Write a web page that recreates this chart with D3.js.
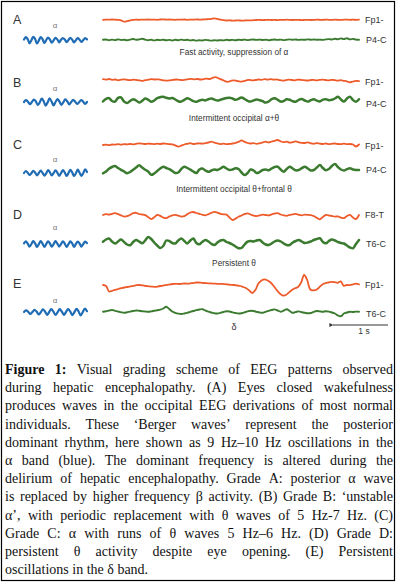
<!DOCTYPE html>
<html>
<head>
<meta charset="utf-8">
<script src="https://cdn.jsdelivr.net/npm/d3@7"></script>
<style>
  html, body { margin: 0; padding: 0; background: #fff; }
  svg { display: block; }
</style>
</head>
<body>
<div id="chart"></div>
<script>
// ---------------- DATA ----------------
const panels = ["A", "B", "C", "D", "E"];
const topLabels = ["Fp1-", "Fp1-", "Fp1-", "F8-T", "Fp1-"];
const bottomLabels = ["P4-C", "P4-C", "P4-C", "T6-C", "T6-C"];
const descriptions = ["Fast activity, suppression of \u03b1", "Intermittent occipital \u03b1+\u03b8",
  "Intermittent occipital \u03b8+frontal \u03b8", "Persistent \u03b8", "\u03b4"];
const alphaLabel = "\u03b1";
const scaleBarLabel = "1 s";

// posterior alpha (blue) traces, amplitude units
const alphaA = [0.5, 2.8, 0.8, -3.3, -0.2, 3.2, 1.0, -3.5, -0.5, 3.0, 0.8, -3.0, 0.0, 2.5, 0.4, -2.6, -0.3, 2.2, 0.6, -2.5, 0.2, 2.0, 0.5, -2.2, 0.0, 2.2, 0.4, -2.4, -0.2, 1.8, 0.3, -2.0, 0.0, 1.8, 0.6];
const alphaB = [0.0, 1.8, 0.2, -2.2, 0.0, 2.5, 0.6, -3.0, -0.3, 3.3, 0.8, -3.6, -0.4, 3.6, 0.5, -3.4, 0.0, 3.0, 0.4, -2.8, -0.2, 2.6, 0.6, -2.4, 0.0, 2.2, 0.3, -2.0, -0.2, 2.0, 0.4, -1.8, 0.0];
const alphaC = [0.0, 2.0, 0.3, -2.0, -0.2, 2.2, 0.5, -2.4, 0.0, 2.5, 0.2, -2.6, -0.3, 2.8, 0.6, -2.5, 0.0, 2.6, 0.4, -2.8, -0.1, 3.0, 0.5, -3.0, 0.0, 3.2, 0.6, -3.0, -0.2, 3.4, 0.3, -2.8, 0.0, 3.6, 1.0];
const alphaD = [0.6, 2.6, 0.4, -2.6, 0.0, 2.8, 0.6, -3.0, -0.2, 2.8, 0.3, -2.8, 0.0, 2.6, 0.5, -2.7, -0.1, 2.9, 0.4, -2.6, 0.0, 2.6, 0.4, -2.8, -0.2, 2.7, 0.6, -2.8, 0.0, 2.5, 0.4, -2.6, 0.0, 2.4, 0.8];
const alphaE = [0.0, 1.6, 0.2, -2.0, 0.0, 2.2, 0.4, -2.5, -0.2, 2.6, 0.5, -2.8, 0.0, 3.0, 0.4, -3.0, -0.2, 2.8, 0.5, -2.8, 0.0, 3.0, 0.6, -3.2, -0.1, 3.2, 0.5, -3.4, 0.0, 3.5, 0.8];

// upper (orange) channel traces
const topA = [0.2, 0.4, 0.3, 0.5, 0.3, 0.1, -0.3, -1.6, -1.2, -0.4, 0.1, 0.3, 0.2, 0.4, 0.3, 0.5, 0.3, 0.4, 0.2, 0.5, 0.6, 0.4, 0.5, 0.3, 0.2, 0.4, 0.3, 0.5, 0.2, 0.4, 0.3, 0.6, 0.4, 0.5, 0.7, 0.9, 1.2, 1.6, 1.1, 0.3, -0.2, -0.5, -0.4, -0.6, -0.5, -0.4, -0.6, -0.5, -0.3, -0.4, -0.2, 0.0, 0.1, -0.1, 0.1, 0.2, 0.0, 0.1, -0.1, 0.2, 0.1, 0.3, 0.1, 0.0, 0.2, 0.1, -0.1, 0.1, 0.2, 0.0, 0.1, 0.3, 0.2, 0.1, 0.4, 0.2, 0.1, 0.3, 0.2, 0.1, 0.3, 0.4, 0.2, 0.3, 0.2, 0.3];
const topB = [0.8, 0.4, 1.0, 0.2, 0.5, -0.3, 0.3, 0.6, 0.1, -0.2, 0.4, 0.0, -0.4, -0.8, -0.2, 0.3, 0.9, 0.5, 0.7, 0.2, -0.4, -0.7, -0.3, 0.1, 0.5, 0.2, -0.1, 0.4, 0.8, 1.2, 0.7, 1.0, 0.5, 0.9, 1.3, 1.0, 2.2, 2.8, 1.6, 0.4, -1.2, -1.8, -0.8, -0.3, -1.0, -1.6, -1.2, -0.4, 0.2, -0.3, 0.0, 0.5, 0.2, 0.8, 0.4, 0.9, 0.3, 0.6, -0.2, -0.6, -0.2, 0.3, 0.0, -0.3, 0.4, 0.1, -0.2, -0.5, -0.1, 0.2, -0.3, 0.1, 0.4, 0.0, -0.4, 0.2, -0.1, -0.6, -0.2, -0.8, -1.3, -2.4, -1.5, -0.8, -1.2];
const topC = [0.0, 0.4, -0.2, 0.5, 0.3, 0.8, 0.4, 0.9, 0.6, 1.0, 0.7, 1.2, 1.6, 1.3, 1.0, 1.4, 1.1, 0.9, 1.3, 1.0, 1.5, 1.2, 0.8, 0.6, -0.4, -1.6, -0.6, 0.5, 1.2, 1.8, 1.0, 1.4, 1.7, 1.3, 1.9, 2.5, 3.3, 2.4, 1.5, 0.9, 1.3, 0.8, 1.1, 1.5, 2.2, 3.2, 4.6, 3.2, 2.0, 1.5, 1.8, 1.2, 1.7, 2.5, 3.3, 2.6, 3.5, 4.2, 5.0, 3.6, 2.8, 3.4, 2.4, 2.9, 3.6, 2.7, 2.2, 2.0, 2.6, 1.7, 1.2, 1.9, 1.4, 1.0, 1.5, 0.8, 1.2, 1.5, 1.0, 0.9, 1.3, 0.8, 1.0, 0.5, -1.5, 0.5];
const topD = [0.0, 0.8, 0.3, 1.2, 1.8, 0.9, -0.4, -1.5, -1.2, 0.2, 1.8, 2.2, 1.0, 0.5, -0.2, -2.0, -4.2, -2.2, 0.0, -0.8, -2.5, -3.2, -1.5, -0.3, 0.2, -0.6, -1.6, -1.2, 0.8, 2.5, 3.0, 2.0, 1.2, 0.2, -0.3, 0.8, 2.2, 3.2, 2.4, 1.2, 0.6, 0.4, -2.5, -5.0, -3.6, -1.8, -0.5, 0.8, 1.7, 0.5, -0.6, -1.1, -0.3, 0.4, 0.0, -0.4, 0.6, 1.3, 1.8, 0.5, -0.4, -0.8, 0.2, 0.6, 1.1, 0.2, -0.3, 0.3, 0.1, -0.2, -1.2, -2.8, -4.3, -2.0, 0.0, -0.5, -1.0, -1.6, -1.4, -2.6, -3.1, -1.0, 0.1, -2.5, -4.0, 0.0];
const topE = [-1.0, -2.0, -7.5, -6.8, -5.8, -5.0, -4.2, -3.5, -3.0, -2.4, -1.8, -1.2, -1.0, -1.4, -2.0, -2.3, -2.6, -2.8, -2.5, -2.0, -1.4, -0.8, -0.3, 0.0, 0.2, 0.0, 0.3, 0.5, 0.4, 0.8, 1.2, 1.5, 1.4, 1.0, 0.8, 0.6, 0.4, 0.3, 0.1, 0.2, -0.2, -0.5, -0.8, -1.0, -1.5, -2.0, -3.0, -4.2, -6.5, -9.0, -6.0, 0.5, 3.5, 4.6, 3.5, 1.5, -2.0, -6.0, -9.5, -11.5, -11.0, -8.5, -6.0, -4.2, -3.0, 1.5, 9.0, 4.0, -5.5, -6.3, -5.8, -3.2, -0.5, 0.8, 1.5, 2.2, 1.8, 1.2, 2.6, -1.8, -1.0, -1.2, -0.4, 0.3, -0.3];

// lower (green) channel traces
const botA = [0.2, 0.5, -0.2, 0.4, -0.1, 0.6, 0.0, 0.3, -0.3, 0.4, 1.0, 0.3, 0.6, 1.2, 0.4, -0.2, 0.3, -0.4, 0.2, -0.1, 0.3, -0.3, 0.1, -0.5, 0.2, -0.2, 0.4, -0.1, 0.2, -0.4, 0.0, -0.6, -0.2, -0.5, 0.1, -0.3, -0.6, -0.2, -0.5, -0.1, -0.4, 0.2, -0.2, 0.1, -0.3, 0.3, 0.0, 0.4, -0.1, 0.3, 0.5, 0.1, 0.4, 0.0, 0.3, -0.2, 0.2, 0.5, 0.1, 0.4, -0.1, 0.3, 0.6, 0.2, 0.5, 0.1, 0.4, 0.2, 0.6, 0.3, 0.5, 0.2, 0.4, 0.1, 0.6, 0.9, 0.5, 1.2, 0.8, 1.6, 0.9, 1.8, 0.6, 1.1, 0.4, 0.2];
const botB = [-1.5, 1.2, 1.8, -1.0, -1.6, 2.2, 2.5, -1.5, -3.0, -1.0, 0.8, -0.5, -2.5, -0.8, 1.5, 0.3, -1.8, -0.5, 1.8, 2.8, 3.3, 2.2, 1.6, 2.0, 0.5, -1.2, -1.6, 0.2, 1.8, 0.5, -1.2, -1.8, -0.5, 0.3, -0.4, 0.8, 1.6, 0.4, -0.6, 0.2, 1.2, 2.0, 2.3, 1.5, 0.2, 1.2, 2.6, 1.0, -0.8, -1.6, -0.4, 0.6, -0.2, -1.2, -2.6, -1.5, 0.8, 1.7, 0.2, -1.6, -1.0, 0.7, 0.2, -1.3, -1.7, 0.2, 0.9, -0.5, -1.6, -0.2, 0.8, -0.6, -1.5, 0.3, 0.8, -0.2, 0.2, 1.5, 3.3, 0.5, -1.6, 1.5, 3.2, 0.0, -1.7, 0.7];
const botC = [-3.3, -1.5, 1.2, 3.0, 4.0, 2.0, 0.2, -1.5, -3.2, -2.0, 0.2, 2.5, 4.8, 2.5, 0.3, -1.5, -4.8, -3.5, -1.0, 1.5, 3.3, 2.0, 0.8, -1.0, -3.0, -2.5, 1.0, 3.3, 2.0, 0.3, -1.5, -3.0, 0.5, 1.5, -0.5, -1.8, -0.5, 0.5, 0.0, 1.5, 3.3, 1.5, 0.0, 0.5, 1.7, 1.0, -2.5, -5.0, -3.0, 0.5, -0.5, -3.0, -2.0, 0.0, 0.5, -0.3, 1.5, 3.0, 3.3, 0.5, -1.7, 1.0, 3.3, 1.5, -0.3, 0.0, 1.8, 3.3, 1.5, -0.5, 0.0, 2.5, 5.0, 2.0, -0.3, 1.0, 4.0, 6.0, 3.0, 0.5, -0.5, 0.8, 1.7, 0.5, 0.0, 0.0];
const botD = [1.3, 3.5, 4.5, 1.5, -0.5, 1.5, 3.5, 1.0, -1.5, -2.2, 1.0, 3.0, 1.5, -0.3, 2.5, 6.0, 4.0, 0.5, -2.5, -5.0, -3.0, 2.5, 2.0, 0.0, -0.5, 2.5, 4.5, 2.0, -0.5, 2.5, 4.5, 0.0, -1.2, 1.2, 3.0, 1.5, -0.8, -2.0, 0.5, 2.5, 3.0, 1.0, 0.0, -1.5, -3.5, -5.2, -5.0, -1.5, 1.3, 2.0, 1.5, 2.5, 3.0, 0.5, -1.5, -2.0, -0.5, 1.5, 2.5, 1.5, -0.5, -2.0, -2.0, 0.5, 2.0, 3.0, 1.5, 0.0, 0.5, 1.5, 3.0, 4.0, 4.7, 1.0, -0.3, 2.0, 3.5, 2.5, 1.0, 0.0, -0.5, -2.5, -4.5, -5.3, -1.0, 3.0];
const botE = [0.3, 0.8, 1.5, 2.0, 1.2, 0.5, -0.3, -0.8, -0.3, 0.4, 1.0, 1.5, 1.2, 0.8, 0.5, 0.2, 0.6, 1.2, 1.8, 2.3, 3.5, 5.3, 3.0, 0.5, -0.8, -1.6, -2.0, -1.5, -0.8, 0.2, 1.0, 1.8, 2.5, 2.8, 1.5, 0.3, -0.5, -1.3, -1.5, -0.8, 0.0, 0.8, 0.5, -0.3, -1.0, -1.5, -1.2, -0.3, 0.6, 1.3, 1.0, 0.2, -0.5, -0.8, 0.2, 1.2, 2.0, 2.6, 1.5, 0.3, 1.5, 2.8, 1.0, -0.8, 0.0, 0.6, -0.2, -0.8, -1.3, -1.0, 0.2, 1.0, 0.6, 0.3, 0.8, 0.4, -0.5, -1.5, -3.5, -4.2, -1.5, -0.5, 0.3, 0.0, 0.4, 0.3];

const alphaTraces = [alphaA, alphaB, alphaC, alphaD, alphaE];
const topTraces = [topA, topB, topC, topD, topE];
const bottomTraces = [botA, botB, botC, botD, botE];

const captionLines = [
  "Figure 1: Visual grading scheme of EEG patterns observed",
  "during hepatic encephalopathy. (A) Eyes closed wakefulness",
  "produces waves in the occipital EEG derivations of most normal",
  "individuals. These \u2018Berger waves\u2019 represent the posterior",
  "dominant rhythm, here shown as 9 Hz\u201310 Hz oscillations in the",
  "\u03b1 band (blue). The dominant frequency is altered during the",
  "delirium of hepatic encephalopathy. Grade A: posterior \u03b1 wave",
  "is replaced by higher frequency \u03b2 activity. (B) Grade B: \u2018unstable",
  "\u03b1\u2019, with periodic replacement with \u03b8 waves of 5 Hz-7 Hz. (C)",
  "Grade C: \u03b1 with runs of \u03b8 waves 5 Hz\u20136 Hz. (D) Grade D:",
  "persistent \u03b8 activity despite eye opening. (E) Persistent",
  "oscillations in the \u03b4 band."
];

// ---------------- LAYOUT ----------------
const W = 397, H = 583;
const layout = {
  letterY: [24, 87, 149, 219, 288],
  alphaY: [28, 91, 162, 230, 303],
  blueY: [40, 102, 173, 244, 312],
  topY: [20, 80, 145, 215, 284],
  botY: [40, 100, 170, 243, 312],
  topLabelY: [20, 81.5, 146, 215, 285],
  botLabelY: [40, 104, 170, 244, 314],
  descY: [55, 121, 192, 266, 330]
};
const colors = { top: "#ee5b2b", bot: "#3b7b2f", blue: "#1f6cb4", text: "#333" };

const svg = d3.select("#chart").append("svg").attr("width", W).attr("height", H);
svg.append("rect").attr("width", W).attr("height", H).attr("fill", "#fff");

const sansFont = "Liberation Sans, Arial, sans-serif";
const serifFont = "Liberation Serif, Times New Roman, serif";

const line = d3.line().curve(d3.curveCatmullRom.alpha(0.5));
function drawTrace(values, x0, x1, base, color, width) {
  const xs = d3.scaleLinear().domain([0, values.length - 1]).range([x0, x1]);
  const ys = d3.scaleLinear().domain([-10, 10]).range([base + 10, base - 10]);
  svg.append("path")
    .attr("d", line.x((d, i) => xs(i)).y(d => ys(d))(values))
    .attr("fill", "none").attr("stroke", color).attr("stroke-width", width)
    .attr("stroke-linejoin", "round").attr("stroke-linecap", "round");
}

panels.forEach((p, i) => {
  svg.append("text").attr("x", 13).attr("y", layout.letterY[i])
    .attr("font-family", sansFont).attr("font-size", 12.5).attr("fill", colors.text).text(p);
  svg.append("text").attr("x", 55).attr("y", layout.alphaY[i]).attr("text-anchor", "middle")
    .attr("font-family", sansFont).attr("font-size", 8).attr("fill", "#777").text(alphaLabel);
  drawTrace(alphaTraces[i], 24, 87, layout.blueY[i], colors.blue, 2.2);
  drawTrace(topTraces[i], 103, 359, layout.topY[i], colors.top, 1.8);
  drawTrace(bottomTraces[i], 103, 359, layout.botY[i], colors.bot, i === 0 || i === 4 ? 1.9 : 2.5);
  svg.append("text").attr("x", 365).attr("y", layout.topLabelY[i] + 3.2)
    .attr("font-family", sansFont).attr("font-size", 9).attr("fill", colors.text).text(topLabels[i]);
  svg.append("text").attr("x", 366).attr("y", layout.botLabelY[i] + 3.2)
    .attr("font-family", sansFont).attr("font-size", 9).attr("fill", colors.text).text(bottomLabels[i]);
  svg.append("text").attr("x", 234).attr("y", layout.descY[i]).attr("text-anchor", "middle")
    .attr("font-family", sansFont).attr("font-size", i === 4 ? 9 : 8.3).attr("fill", colors.text).text(descriptions[i]);
});

// scale bar with arrow
svg.append("defs").append("marker").attr("id", "arr").attr("viewBox", "0 0 10 10")
  .attr("refX", 1).attr("refY", 5).attr("markerWidth", 5).attr("markerHeight", 4)
  .attr("orient", "auto-start-reverse")
  .append("path").attr("d", "M10,0 L0,5 L10,10 z").attr("fill", "#333");
svg.append("line").attr("x1", 388).attr("x2", 333).attr("y1", 325).attr("y2", 325)
  .attr("stroke", "#333").attr("stroke-width", 1).attr("marker-end", "url(#arr)");
svg.append("text").attr("x", 364).attr("y", 334).attr("text-anchor", "middle")
  .attr("font-family", sansFont).attr("font-size", 8.5).attr("fill", colors.text).text(scaleBarLabel);

// caption (justified lines)
const capX0 = 5, capX1 = 393, capY0 = 374, capLH = 18.2, capFS = 14;
captionLines.forEach((ln, li) => {
  const words = ln.split(" ");
  const t = svg.append("text").attr("y", capY0 + li * capLH)
    .attr("font-family", serifFont).attr("font-size", capFS).attr("fill", "#111");
  const spans = words.map((w, wi) => t.append("tspan").text(w)
    .attr("font-weight", li === 0 && wi < 2 ? "bold" : null));
  const widths = spans.map(s => s.node().getComputedTextLength());
  const total = d3.sum(widths);
  const last = li === captionLines.length - 1;
  const gap = last ? capFS * 0.25 : (capX1 - capX0 - total) / (words.length - 1);
  let x = capX0;
  spans.forEach((s, k) => { s.attr("x", x); x += widths[k] + gap; });
});

// outer frame
svg.append("rect").attr("x", 1.5).attr("y", 1.5).attr("width", 393).attr("height", 579)
  .attr("fill", "none").attr("stroke", "#000").attr("stroke-width", 1.2);
</script>
</body>
</html>
